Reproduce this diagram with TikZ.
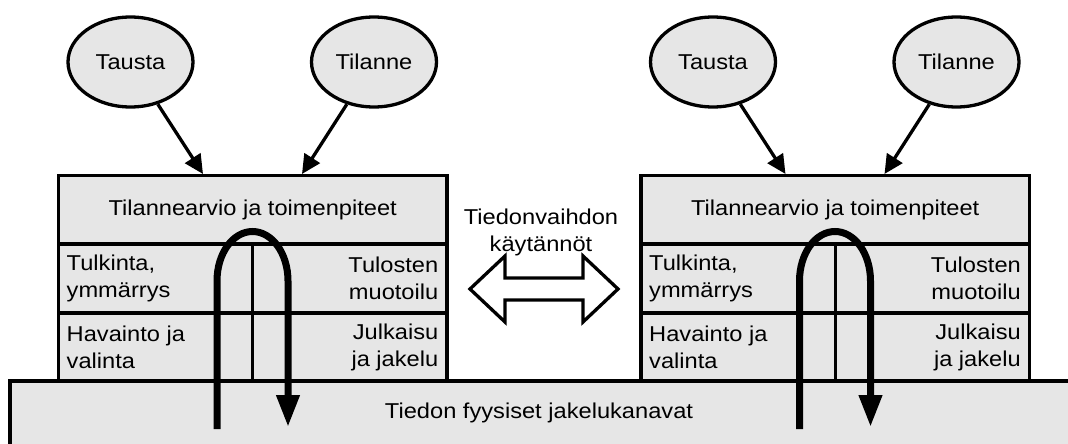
\documentclass[tikz,border=0pt]{standalone}
\usepackage{fontspec}
\setmainfont{Liberation Sans}[FakeStretch=1.1]
\usetikzlibrary{arrows.meta,calc,shapes.geometric}
\definecolor{panelgray}{RGB}{230,230,230}
\tikzset{
  lbl/.style={font=\fontsize{21.5pt}{27pt}\selectfont, inner sep=0pt},
  bubble/.style={ellipse, draw, line width=3.3pt, fill=panelgray,
    minimum width=125pt, minimum height=90pt, inner sep=0pt, lbl},
  panel/.style={rectangle, draw, line width=3.3pt, fill=panelgray,
    minimum width=388.5pt, inner sep=0pt, lbl},
  feed/.style={line width=3.3pt, -{Triangle[length=19pt,width=18pt]}},
  loopline/.style={line width=7pt, -{Triangle[length=32pt,width=22pt]}},
}
% One actor: background, situation, layered processing stack and its cycle
\newcommand\situationgroup[2]{%
  \begin{scope}[xshift=#2pt]
    \node[bubble] (#1tausta) at (130.5,62) {Tausta};
    \node[bubble] (#1tilanne) at (374,62) {Tilanne};
    \node[panel, minimum height=68.5pt] (#1top) at (252.7,209.75) {Tilannearvio ja toimenpiteet};
    \node[panel, minimum height=69pt] (#1mid) at (252.7,278.5) {};
    \node[panel, minimum height=68pt] (#1bot) at (252.7,347) {};
    \draw[line width=3.3pt] (#1mid.north) -- (#1bot.south);
    \node[lbl, anchor=west, align=left] (#1interp) at (66.5,278.5) {Tulkinta,\\ymmärrys};
    \node[lbl, anchor=east, align=right] (#1format) at (438.5,278.5) {Tulosten\\muotoilu};
    \node[lbl, anchor=west, align=left] (#1percept) at (66.5,347) {Havainto ja\\valinta};
    \node[lbl, anchor=east, align=right] (#1publish) at (438.5,347) {Julkaisu\\ja jakelu};
    \coordinate (#1inA) at (203,174);
    \coordinate (#1inB) at (302,174);
    \draw[feed] (#1tausta) -- (#1inA);
    \draw[feed] (#1tilanne) -- (#1inB);
    \coordinate (#1up) at (217,429);
    \coordinate (#1down) at (288,427);
    \draw[loopline] (#1up) -- (217,281)
      .. controls (217,253.4) and (232.9,231.5) .. (252.5,231.5)
      .. controls (272.1,231.5) and (288,253.4) .. (288,281) -- (#1down);
  \end{scope}}

\begin{document}
\begin{tikzpicture}[x=1pt, y=-1pt]
  \useasboundingbox (0,0) rectangle (1068,444);
  \clip (0,0) rectangle (1068,444);
  \fill[white] (0,0) rectangle (1068,444);
  % physical distribution channels
  \draw[line width=3.3pt, fill=panelgray] (10,381) rectangle (1090,470);
  \node[lbl] (channels) at (539,413) {Tiedon fyysiset jakelukanavat};
  \situationgroup{l}{0}
  \situationgroup{r}{582.5}
  % exchange practices between the two actors
  \node[lbl, align=center] (exchange) at (541,232) {Tiedonvaihdon\\käytännöt};
  \coordinate (swap) at (544,289);
  \draw[line width=3.3pt, fill=white]
    ($(swap)+(-74,0)$) -- ($(swap)+(-39,-33)$) -- ($(swap)+(-39,-11)$)
    -- ($(swap)+(39,-11)$) -- ($(swap)+(39,-33)$) -- ($(swap)+(74,0)$)
    -- ($(swap)+(39,33)$) -- ($(swap)+(39,11)$) -- ($(swap)+(-39,11)$)
    -- ($(swap)+(-39,33)$) -- cycle;
\end{tikzpicture}
\end{document}
